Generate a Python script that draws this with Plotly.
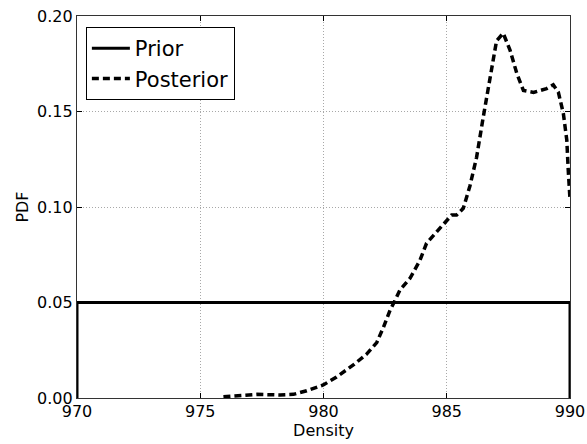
import plotly.graph_objects as go

# Uniform prior on density
prior_x = [970, 970, 990, 990]
prior_pdf = [0.0, 0.05, 0.05, 0.0]

# Posterior density estimate
post_x = [975.94, 977.29, 978.24, 978.78, 979.32, 979.99, 980.53, 981.21, 981.75,
          982.16, 982.43, 982.70, 982.90, 983.10, 983.51, 983.91, 984.18, 984.59,
          985.0, 985.2, 985.4, 985.67, 985.94, 986.21, 986.48, 986.75, 987.02,
          987.29, 987.57, 987.84, 988.11, 988.52, 989.05, 989.32, 989.53, 989.73,
          989.87, 989.93, 990.0]
post_pdf = [0.0007, 0.0019, 0.0016, 0.0019, 0.0038, 0.0068, 0.011, 0.0173, 0.023,
            0.029, 0.037, 0.046, 0.051, 0.0565, 0.0627, 0.072, 0.081, 0.087,
            0.093, 0.0958, 0.0958, 0.0993, 0.111, 0.126, 0.147, 0.166, 0.187,
            0.191, 0.182, 0.170, 0.161, 0.160, 0.162, 0.164, 0.160, 0.149,
            0.135, 0.119, 0.104]

x_ticks = [970, 975, 980, 985, 990]
y_ticks = [0.00, 0.05, 0.10, 0.15, 0.20]

FONT = "DejaVu Sans"

fig = go.Figure()
fig.add_trace(go.Scatter(x=prior_x, y=prior_pdf, mode="lines", name="Prior",
                         line=dict(color="black", width=3), cliponaxis=False))
fig.add_trace(go.Scatter(x=post_x, y=post_pdf, mode="lines", name="Posterior",
                         line=dict(color="black", width=3.5, dash="7px,4px"),
                         cliponaxis=False))

axis_common = dict(
    showline=True, linecolor="#333333", linewidth=1.2, mirror="ticks",
    ticks="inside", ticklen=5, tickcolor="black", tickwidth=1,
    showgrid=True, gridcolor="#a8a8a8", griddash="1px,2px", gridwidth=1,
    zeroline=False, automargin=False,
    tickfont=dict(family=FONT, size=16, color="black"),
)

fig.update_layout(
    width=587, height=444,
    margin=dict(l=77, r=17, t=16, b=46),
    paper_bgcolor="white", plot_bgcolor="white",
    font=dict(family=FONT, color="black"),
    showlegend=True,
    legend=dict(
        x=0.018, y=0.971, xanchor="left", yanchor="top",
        bgcolor="white", bordercolor="black", borderwidth=1,
        font=dict(family=FONT, size=21, color="black"),
        itemwidth=38, tracegroupgap=0,
    ),
    xaxis=dict(range=[970, 990], tickvals=x_ticks,
               ticktext=[str(v) for v in x_ticks],
               ticklabelstandoff=-1,
               title=dict(text="Density", font=dict(family=FONT, size=16), standoff=2),
               **axis_common),
    yaxis=dict(range=[0, 0.20], tickvals=y_ticks,
               ticktext=[f"{v:.2f}" for v in y_ticks],
               ticklabelstandoff=0,
               title=dict(text="PDF", font=dict(family=FONT, size=16), standoff=4),
               **axis_common),
)

fig.write_html("out.html")
